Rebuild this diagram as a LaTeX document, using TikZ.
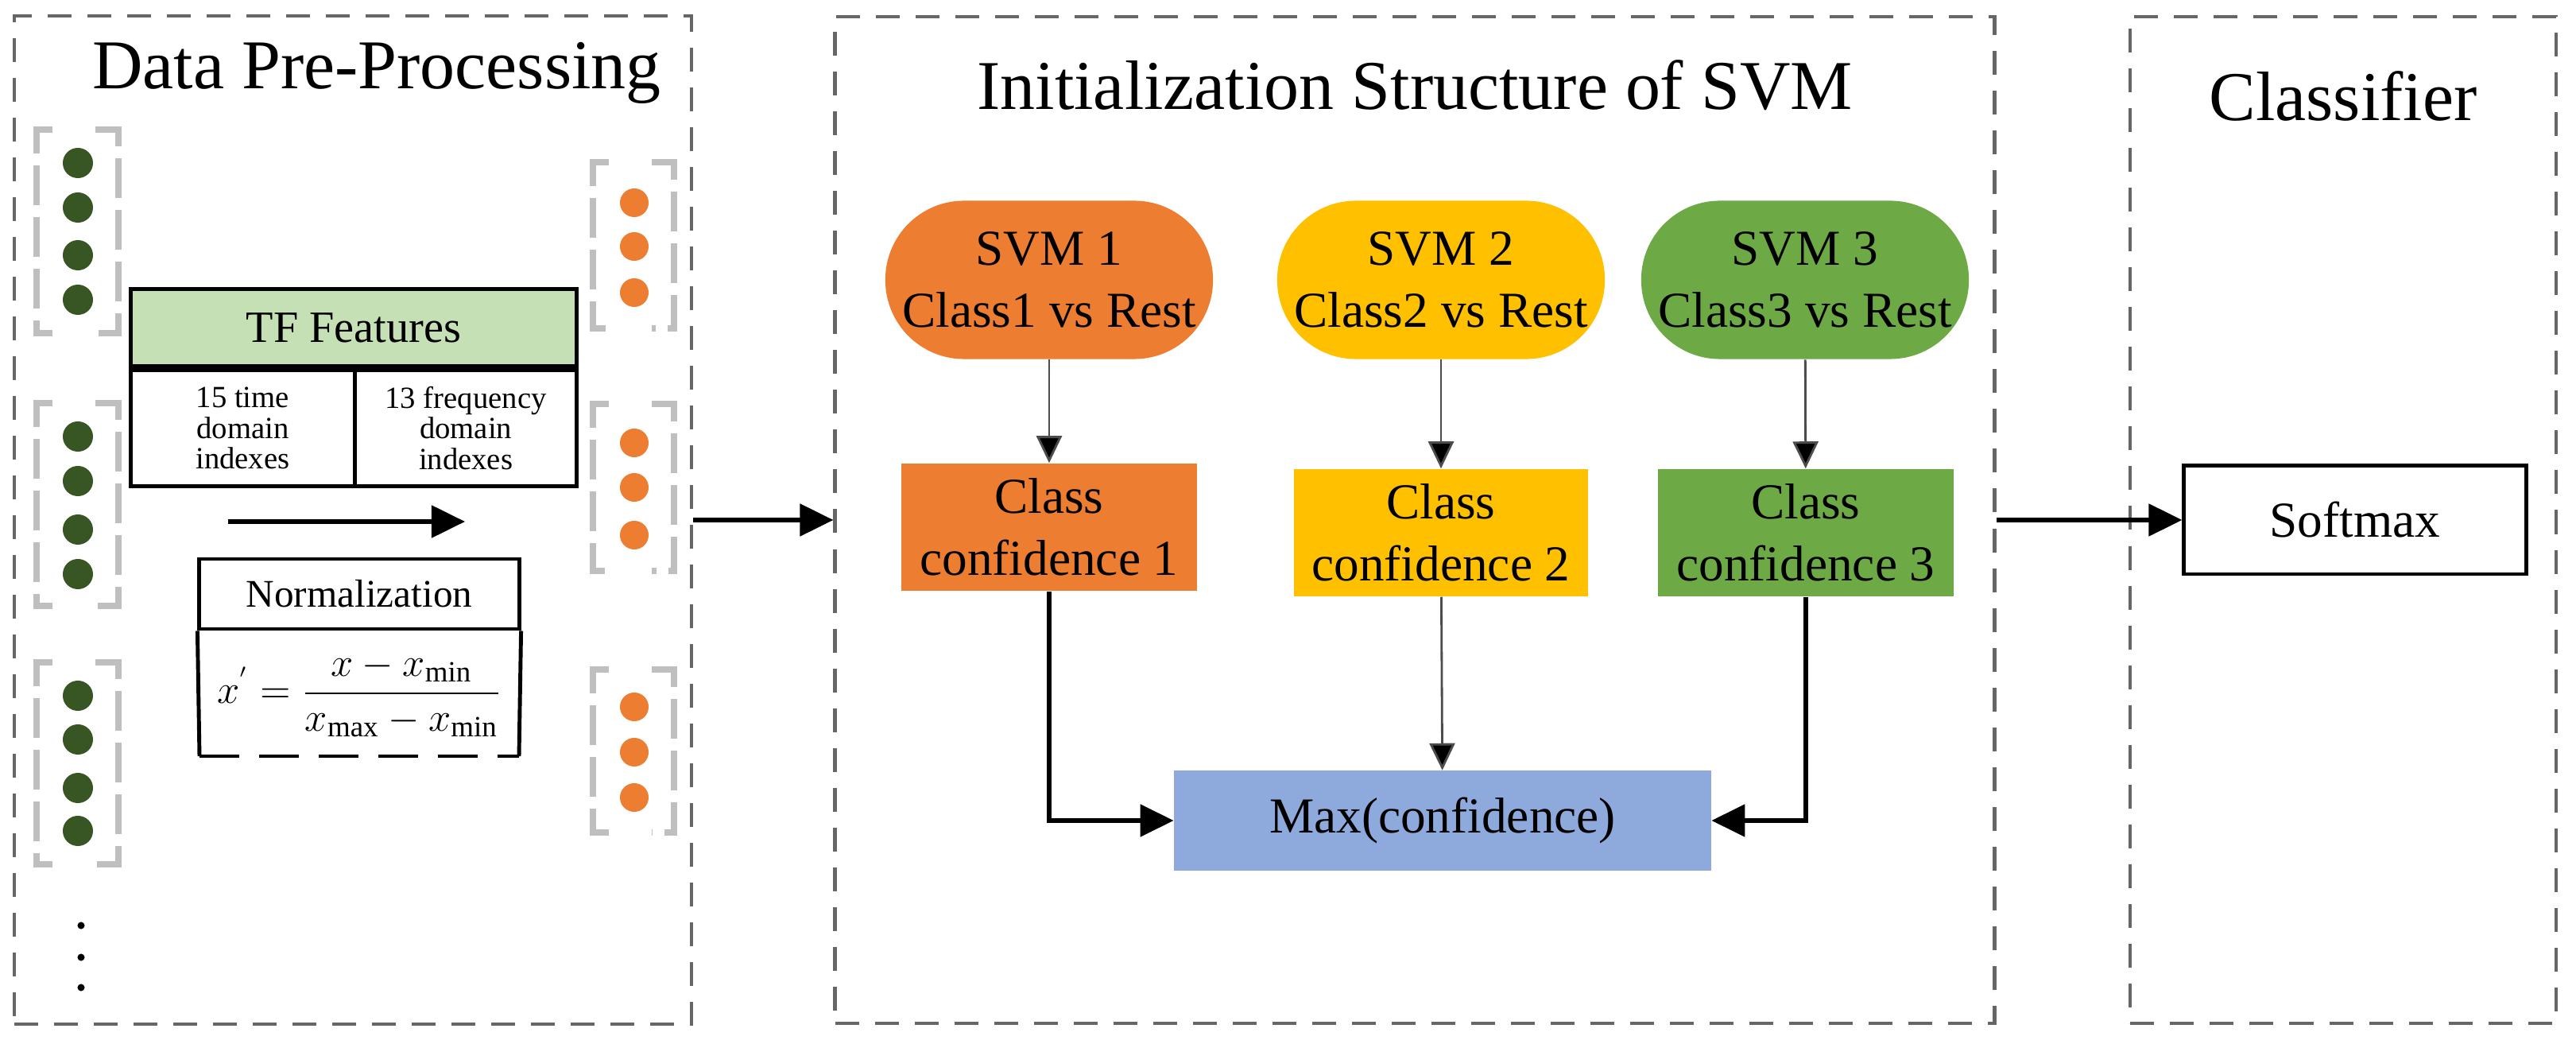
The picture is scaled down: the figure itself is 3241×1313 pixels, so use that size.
\documentclass[tikz,border=0pt]{standalone}
\usepackage{fontspec}
\setmainfont{Liberation Serif}
\usetikzlibrary{arrows.meta,positioning}
\definecolor{svmorange}{HTML}{ED7D31}
\definecolor{svmyellow}{HTML}{FFC000}
\definecolor{svmgreen}{HTML}{6DA945}
\definecolor{maxblue}{HTML}{8EA9DB}
\definecolor{tfgreen}{HTML}{C5E0B4}
\definecolor{dotgreen}{HTML}{375623}
\begin{document}
\begin{tikzpicture}[x=0.01cm,y=-0.01cm]
\tikzstyle{panel}=[draw=black!60,line width=1.2pt,dash pattern=on 0.3cm off 0.2cm,inner sep=0]
\tikzstyle{title}=[font=\fontsize{25}{28}\selectfont]
\tikzstyle{svm}=[rectangle,rounded corners=0.99cm,minimum width=4.12cm,minimum height=1.99cm,align=center,font=\fontsize{18}{22}\selectfont,inner sep=0]
\tikzstyle{conf}=[rectangle,minimum width=3.72cm,minimum height=1.6cm,align=center,font=\fontsize{18}{22}\selectfont,inner sep=0]
\tikzstyle{gdot}=[circle,fill=dotgreen,minimum size=0.38cm,inner sep=0]
\tikzstyle{odot}=[circle,fill=svmorange,minimum size=0.36cm,inner sep=0]
\tikzstyle{bracket}=[draw=black!25,line width=2pt,dash pattern=on 0.5cm off 0.15cm]
\tikzstyle{bigarrow}=[line width=1.5pt,-{Triangle[length=0.42cm,width=0.4cm]}]
\tikzstyle{thinarrow}=[draw=black!70,line width=0.8pt,-{Triangle[length=0.34cm,width=0.32cm,fill=black]}]
\tikzstyle{cell}=[draw,line width=1.4pt,inner sep=0,align=center]
\useasboundingbox (0,0) rectangle (3241,1313);
% panels
\node[panel,minimum width=8.52cm,minimum height=12.68cm] (pre) at (444,654) {};
\node[panel,minimum width=14.58cm,minimum height=12.65cm] (init) at (1780,654) {};
\node[panel,minimum width=5.35cm,minimum height=12.65cm] (cls) at (2948,654) {};
\node[title] (pretitle) at (474,92) {Data Pre-Processing};
\node[title] (inittitle) at (1780,107) {Initialization Structure of SVM};
\node[title] (clstitle) at (2948,121) {Classifier};
% data samples
\foreach \y in {205,261,321,377,549,605,666,722,875,930,991,1045}
  \node[gdot] (g\y) at (98,\y) {};
\foreach \y in {255,310,368,557,613,673,889,946,1003}
  \node[odot] (o\y) at (798,\y) {};
\foreach \y in {1164,1204,1242}
  \node[circle,fill=black,minimum size=0.09cm,inner sep=0] (dd\y) at (102,\y) {};
\foreach \t/\b in {163/419,507/762,833/1087}{
  \draw[bracket] (66,\t) -- (46,\t) -- (46,\b) -- (66,\b);
  \draw[bracket] (120,\t) -- (149,\t) -- (149,\b) -- (120,\b);
}
\foreach \t/\b in {204/413,508/718,842/1047}{
  \draw[bracket] (766,\t) -- (746,\t) -- (746,\b) -- (766,\b);
  \draw[bracket] (820,\t) -- (848,\t) -- (848,\b) -- (820,\b);
}
% TF features
\node[cell,fill=tfgreen,minimum width=5.61cm,minimum height=0.97cm,font=\fontsize{16}{18}\selectfont] (tf) at (445,412) {TF Features};
\node[cell,minimum width=2.82cm,minimum height=1.46cm,font=\fontsize{11}{11}\selectfont,anchor=north west] (time) at (tf.south west) {15 time\\domain\\indexes};
\node[cell,minimum width=2.79cm,minimum height=1.46cm,font=\fontsize{11}{11}\selectfont,anchor=north east] (freq) at (tf.south east) {13 frequency\\domain\\indexes};
\coordinate (ain) at (287,656);
\coordinate (aout) at (585,656);
\draw[bigarrow] (ain) -- (aout);
\node[cell,minimum width=4.02cm,minimum height=0.88cm,font=\fontsize{14}{16}\selectfont] (norm) at (452,747) {Normalization};
\node[font=\fontsize{15}{17}\selectfont] (formula) at (452,874) {$x^{'}=\displaystyle\frac{x-x_{\min}}{x_{\max}-x_{\min}}$};
\coordinate (nbl) at (251,951);
\coordinate (nbr) at (653,951);
\draw[line width=1.4pt] (norm.south west) -- (nbl);
\draw[line width=1.4pt] (norm.south east) -- (nbr);
\draw[line width=1.4pt,dash pattern=on 0.5cm off 0.25cm] (nbl) -- (nbr);
% SVMs
\node[svm,fill=svmorange] (svm1) at (1320,352) {SVM 1\\Class1 vs Rest};
\node[svm,fill=svmyellow] (svm2) at (1813,352) {SVM 2\\Class2 vs Rest};
\node[svm,fill=svmgreen] (svm3) at (2271,352) {SVM 3\\Class3 vs Rest};
\node[conf,fill=svmorange] (c1) at (1320,663) {Class\\confidence 1};
\node[conf,fill=svmyellow,minimum width=3.69cm] (c2) at (1813,670) {Class\\confidence 2};
\node[conf,fill=svmgreen] (c3) at (2272,670) {Class\\confidence 3};
\node[conf,fill=maxblue,minimum width=6.75cm,minimum height=1.25cm] (mx) at (1815,1032) {Max(confidence)};
\draw[thinarrow] (svm1) -- (c1);
\draw[thinarrow] (svm2) -- (c2);
\draw[thinarrow] (svm3) -- (c3);
\draw[thinarrow] (c2) -- (mx);
\draw[bigarrow] (c1.south) |- (mx.west);
\draw[bigarrow] (c3.south) |- (mx.east);
% classifier
\node[cell,minimum width=4.3cm,minimum height=1.36cm,font=\fontsize{18}{20}\selectfont] (soft) at (2963,654) {Softmax};
\draw[bigarrow] (pre.east) -- (init.west);
\draw[bigarrow] (init.east) -- (soft.west);
\end{tikzpicture}
\end{document}
